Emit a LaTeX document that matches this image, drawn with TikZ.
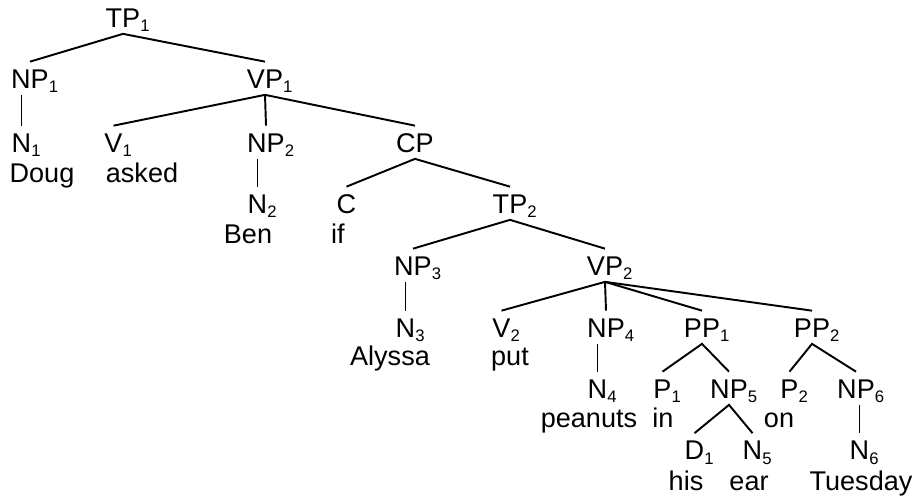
\documentclass[tikz,border=0pt]{standalone}
\usepackage{fontspec}
\setmainfont{Liberation Sans}
\usepackage{tikz}
\usetikzlibrary{positioning}
\newcommand{\ix}[1]{\rlap{\raisebox{-0.17em}{\fontsize{9.5pt}{11pt}\selectfont #1}}}
\tikzset{
  cat/.style={anchor=base, inner xsep=0pt, inner ysep=0.13cm, text height=0.39cm, text depth=0pt},
  word/.style={anchor=base, inner sep=0pt},
  branch/.style={line width=1.1pt}
}

\begin{document}
\begin{tikzpicture}[font=\fontsize{15.4pt}{18pt}\selectfont]
  \useasboundingbox (0,0) rectangle (18.28,-9.92);

  % categories
  \node[cat] (tp1) at (2.46,-0.54) {TP\ix{1}};
  \node[cat] (np1) at (0.60,-1.76) {NP\ix{1}};
  \node[cat] (vp1) at (5.30,-1.76) {VP\ix{1}};
  \node[cat] (n1) at (0.43,-3.04) {N\ix{1}};
  \node[cat] (v1) at (2.27,-3.04) {V\ix{1}};
  \node[cat] (np2) at (5.32,-3.04) {NP\ix{2}};
  \node[cat] (cp) at (8.30,-3.04) {CP};
  \node[cat] (n2) at (5.15,-4.26) {N\ix{2}};
  \node[cat] (c) at (6.93,-4.26) {C};
  \node[cat] (tp2) at (10.20,-4.26) {TP\ix{2}};
  \node[cat] (np3) at (8.26,-5.50) {NP\ix{3}};
  \node[cat] (vp2) at (12.10,-5.50) {VP\ix{2}};
  \node[cat] (n3) at (8.11,-6.74) {N\ix{3}};
  \node[cat] (v2) at (10.03,-6.74) {V\ix{2}};
  \node[cat] (np4) at (12.12,-6.74) {NP\ix{4}};
  \node[cat] (pp1) at (14.04,-6.74) {PP\ix{1}};
  \node[cat] (pp2) at (16.24,-6.74) {PP\ix{2}};
  \node[cat] (n4) at (11.95,-7.96) {N\ix{4}};
  \node[cat] (p1) at (13.25,-7.96) {P\ix{1}};
  \node[cat] (np5) at (14.58,-7.96) {NP\ix{5}};
  \node[cat] (p2) at (15.79,-7.96) {P\ix{2}};
  \node[cat] (np6) at (17.12,-7.96) {NP\ix{6}};
  \node[cat] (d1) at (13.89,-9.19) {D\ix{1}};
  \node[cat] (n5) at (15.05,-9.19) {N\ix{5}};
  \node[cat] (n6) at (17.19,-9.19) {N\ix{6}};

  % words
  \node[word] (doug) at (0.84,-3.64) {Doug};
  \node[word] (asked) at (2.84,-3.64) {asked};
  \node[word] (ben) at (4.96,-4.86) {Ben};
  \node[word] (if) at (6.76,-4.86) {if};
  \node[word] (alyssa) at (7.80,-7.30) {Alyssa};
  \node[word] (put) at (10.20,-7.30) {put};
  \node[word] (peanuts) at (11.78,-8.54) {peanuts};
  \node[word] (in) at (13.26,-8.54) {in};
  \node[word] (on) at (15.58,-8.54) {on};
  \node[word] (his) at (13.72,-9.80) {his};
  \node[word] (ear) at (14.98,-9.80) {ear};
  \node[word] (tuesday) at (17.22,-9.80) {Tuesday};

  % branches
  \draw[branch] (np1.north) -- (tp1.south) -- (vp1.north);
  \draw[branch] (np1.south -| n1.north) -- (n1.north);
  \draw[branch] (v1.north) -- (vp1.south) -- (cp.north);
  \draw[branch] (vp1.south) -- (np2.north);
  \draw[branch] (np2.south -| n2.north) -- (n2.north);
  \draw[branch] (c.north) -- (cp.south) -- (tp2.north);
  \draw[branch] (np3.north) -- (tp2.south) -- (vp2.north);
  \draw[branch] (np3.south -| n3.north) -- (n3.north);
  \draw[branch] (v2.north) -- (vp2.south) -- (pp2.north);
  \draw[branch] (vp2.south) -- (np4.north);
  \draw[branch] (vp2.south) -- (pp1.north);
  \draw[branch] (np4.south -| n4.north) -- (n4.north);
  \draw[branch] (p1.north) -- (pp1.south) -- (np5.north);
  \draw[branch] (d1.north) -- (np5.south) -- (n5.north);
  \draw[branch] (p2.north) -- (pp2.south) -- (np6.north);
  \draw[branch] (np6.south -| n6.north) -- (n6.north);
\end{tikzpicture}
\end{document}
